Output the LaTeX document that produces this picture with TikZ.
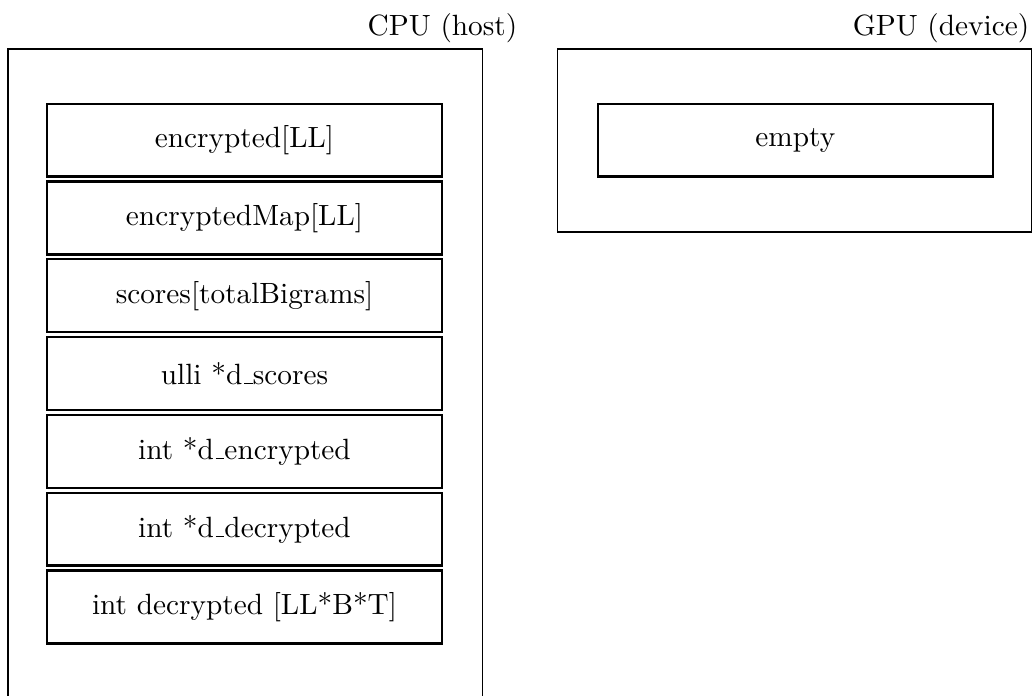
\documentclass[tikz,border=0pt]{standalone}
\usetikzlibrary{positioning}

\newcommand{\undersc}{\leavevmode\kern.06em\vbox{\hrule width.3em}}
\tikzstyle{memory}=[draw,thin]
\tikzstyle{cell}=[draw,thick,minimum width=4.74cm,minimum height=0.875cm,inner sep=0pt]
\tikzstyle{side}=[anchor=base east,inner sep=0pt]

\begin{document}
\begin{tikzpicture}
			\useasboundingbox (0,0) rectangle (12.4,-8.345);
			% the two memory spaces
			\draw[memory] (0.096,-0.588) rectangle (5.79,-9);
			\draw[memory] (6.69,-0.588) rectangle (12.374,-2.782);
			\node[side] (cpu) at (6.21,-0.43) {CPU (host)};
			\node[side] (gpu) at (12.35,-0.43) {GPU (device)};
	   		 % host variables, one below the other
	   		 \foreach \i/\txt in {0/{encrypted[LL]}, 1/{encryptedMap[LL]}, 2/{scores[totalBigrams]}, 3/{ulli *d\undersc scores}, 4/{int *d\undersc encrypted}, 5/{int *d\undersc decrypted}, 6/{int decrypted [LL*B*T]}}
			 \node[cell] (h\i) at (2.932,-1.681-0.933*\i) {\txt};
			% device is empty
			\node[cell] (d0) at (9.538,-1.681) {empty};
		\end{tikzpicture}
\end{document}
